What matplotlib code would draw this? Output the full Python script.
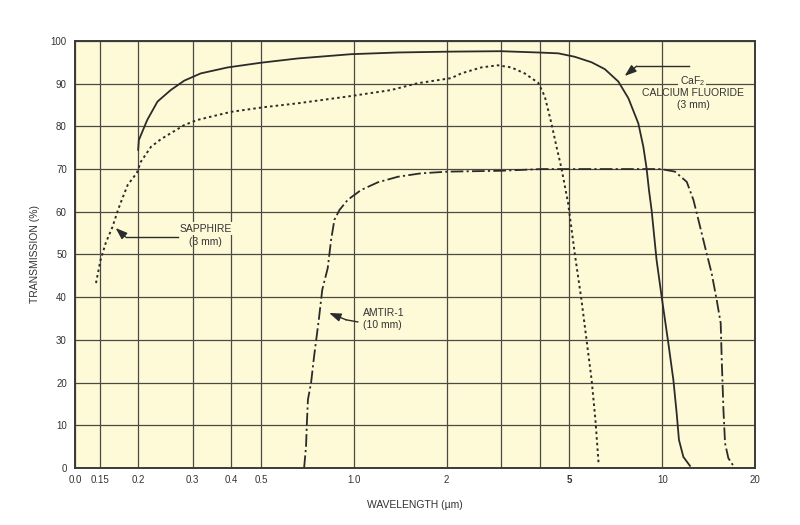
import matplotlib
matplotlib.use("Agg")
from matplotlib import pyplot as plt

plt.rcParams['font.family'] = ['Liberation Sans', 'DejaVu Sans']
plt.rcParams['mathtext.fontset'] = 'custom'
plt.rcParams['mathtext.rm'] = 'Liberation Sans'
plt.rcParams['mathtext.it'] = 'Liberation Sans:italic'

# wavelength (um) / transmission (%)
caf2_x = [0.20, 0.201, 0.214, 0.231, 0.255, 0.282, 0.319, 0.39, 0.50, 0.658, 0.98,
          1.39, 2.07, 3.0, 3.96, 4.60, 5.20, 5.90, 6.51, 7.20, 7.76, 8.36, 8.68,
          8.89, 9.05, 9.23, 9.58, 9.95, 10.46, 10.86, 11.13, 11.32, 11.70, 12.29]
caf2_y = [74.5, 76.8, 81.5, 85.8, 88.5, 90.7, 92.4, 93.8, 94.9, 95.9, 96.9,
          97.3, 97.5, 97.6, 97.3, 97.1, 96.3, 95.0, 93.4, 90.5, 86.6, 80.7, 75.2,
          70.2, 65.1, 60.4, 48.7, 40.1, 29.2, 20.6, 12.8, 6.6, 2.6, 0.5]

sapphire_x = [0.146, 0.151, 0.157, 0.165, 0.172, 0.177, 0.185, 0.198, 0.204, 0.22,
              0.237, 0.282, 0.311, 0.40, 0.513, 0.658, 0.98, 1.32, 1.61, 2.07,
              2.23, 2.59, 2.93, 3.24, 3.58, 3.96, 4.16, 4.37, 4.54, 4.71, 4.95,
              5.20, 5.47, 5.68, 5.90, 6.07, 6.22]
sapphire_y = [43.3, 48.7, 52.7, 56.4, 60.4, 62.8, 66.3, 69.1, 71.7, 75.2,
              77.0, 80.3, 81.5, 83.4, 84.5, 85.4, 87.1, 88.5, 90.1, 91.3,
              92.4, 93.8, 94.3, 93.8, 92.4, 90.2, 87.0, 80.7, 75.2, 70.2, 62.0,
              50.3, 39.3, 30.0, 20.6, 11.2, 0.7]

amtir_x = [0.69, 0.70, 0.704, 0.71, 0.727, 0.743, 0.77, 0.79, 0.823, 0.844, 0.865,
           0.898, 0.956, 1.056, 1.197, 1.39, 1.65, 2.02, 3.0, 4.06, 7.0, 9.9, 10.99,
           12.0, 12.61, 13.09, 13.75, 14.45, 15.01, 15.46, 15.58, 15.78, 15.97,
           16.37, 17.0]
amtir_y = [0.0, 5.0, 10.0, 16.0, 20.0, 26.0, 34.7, 41.7, 46.8, 53.4, 58.1,
           60.4, 62.8, 65.1, 66.9, 68.2, 69.0, 69.4, 69.6, 70.0, 70.0, 70.0, 69.4,
           67.0, 62.8, 58.1, 51.8, 45.6, 39.3, 33.9, 25.3, 13.6, 5.8,
           2.3, 0.5]

x_ticks = [0.125, 0.15, 0.2, 0.3, 0.4, 0.5, 1.0, 2, 5, 10, 20]
x_labels = ['0.0', '0.15', '0.2', '0.3', '0.4', '0.5', '1.0', '2', '5', '10', '20']
x_minor = [3, 4]
y_ticks = [0, 10, 20, 30, 40, 50, 60, 70, 80, 90, 100]

bg = '#fef9d6'
ink = '#2b2b2b'
txt = '#333333'

fig = plt.figure(figsize=(8, 5.25), dpi=100)
ax = fig.add_axes([0.094, 0.1086, 0.850, 0.8134])
ax.set_facecolor(bg)

ax.plot(caf2_x, caf2_y, color=ink, lw=1.3)
ax.plot(sapphire_x, sapphire_y, color=ink, lw=1.4, linestyle=(0, (1.3, 1.6)))
ax.plot(amtir_x, amtir_y, color=ink, lw=1.3, linestyle=(0, (7, 1.8, 1.2, 1.8)))

ax.set_xscale('log')
ax.set_xlim(0.125, 20)
ax.set_ylim(0, 100)
ax.set_xticks(x_ticks)
ax.set_xticklabels(x_labels)
ax.set_xticks(x_minor, minor=True)
ax.set_xticklabels([], minor=True)
ax.set_yticks(y_ticks)
for lab in ax.get_xticklabels():
    if lab.get_text() == '5':
        lab.set_fontweight('bold')

ax.tick_params(which='both', length=0, labelsize=7, labelcolor=txt)
ax.tick_params(axis='x', pad=5)
ax.tick_params(axis='y', pad=6)
ax.grid(True, which='both', color='#4a4a45', lw=0.9)
ax.set_axisbelow(True)
for s in ax.spines.values():
    s.set_color('#3a3a3a')
    s.set_linewidth(1.4)

ax.set_ylabel('TRANSMISSION (%)', fontsize=7.5, color=txt, labelpad=8)
ax.set_xlabel('WAVELENGTH (\u00b5m)', fontsize=7.5, color=txt, labelpad=11)

arrow = dict(arrowstyle='-|>,head_length=0.7,head_width=0.25', color=ink, lw=1.0,
             shrinkA=0, shrinkB=0)
boxed = dict(facecolor=bg, edgecolor='none', pad=1.0)

# CaF2 label
ax.plot([12.2, 8.25], [94.1, 94.1], color=ink, lw=1.0)
ax.annotate('', xy=(7.55, 91.8), xytext=(8.25, 94.1), arrowprops=arrow)
ax.text(12.5, 90.6, 'CaF$_2$', fontsize=7.5, color=txt, ha='center', va='center', bbox=boxed)
ax.text(12.6, 87.8, 'CALCIUM FLUORIDE', fontsize=7.5, color=txt, ha='center', va='center')
ax.text(12.6, 85.0, '(3 mm)', fontsize=7.5, color=txt, ha='center', va='center')

# sapphire label
ax.plot([0.269, 0.182], [54.1, 54.1], color=ink, lw=1.0)
ax.annotate('', xy=(0.169, 56.2), xytext=(0.182, 54.1), arrowprops=arrow)
ax.text(0.331, 56.0, 'SAPPHIRE', fontsize=7.5, color=txt, ha='center', va='center', bbox=boxed)
ax.text(0.331, 53.0, '(3 mm)', fontsize=7.5, color=txt, ha='center', va='center')

# AMTIR-1 label
ax.plot([1.03, 0.944], [34.2, 34.7], color=ink, lw=1.0)
ax.annotate('', xy=(0.832, 36.3), xytext=(0.944, 34.7), arrowprops=arrow)
ax.text(1.07, 36.3, 'AMTIR-1', fontsize=7.5, color=txt, ha='left', va='center')
ax.text(1.07, 33.5, '(10 mm)', fontsize=7.5, color=txt, ha='left', va='center')

fig.savefig('out.png', dpi=100, facecolor='white')
